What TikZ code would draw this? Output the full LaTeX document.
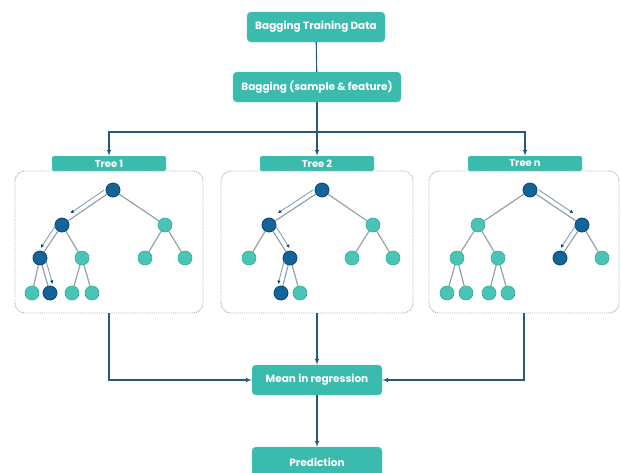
\documentclass[tikz,border=0pt]{standalone}
\usepackage{fontspec}
\setmainfont{Poppins}
\usepackage{tikz}
\usetikzlibrary{arrows}
\usetikzlibrary{arrows.meta}
\usetikzlibrary{calc}
\usetikzlibrary{positioning}
\definecolor{boxteal}{RGB}{59,187,173}
\definecolor{leafteal}{RGB}{74,197,181}
\definecolor{leafedge}{RGB}{50,170,158}
\definecolor{pickblue}{RGB}{20,100,156}
\definecolor{pickedge}{RGB}{10,66,112}
\definecolor{linkblue}{RGB}{38,88,128}
\definecolor{routeblue}{RGB}{125,162,190}
\definecolor{branchgray}{RGB}{150,160,166}
\tikzset{stage/.style = {fill = boxteal, draw = boxteal!80!white, rounded corners = 4pt,
                         text = white, font = \fontsize{10.5}{12}\selectfont\bfseries,
                         minimum height = 30, inner sep = 0}}
\tikzset{tab/.style = {fill = boxteal, rounded corners = 2pt, text = white,
                       font = \fontsize{10}{11}\selectfont\bfseries,
                       minimum width = 114, minimum height = 15, inner sep = 0}}
\tikzset{frame/.style = {draw = gray!65, densely dotted, line width = 0.9pt,
                         rounded corners = 10pt, minimum height = 142, inner sep = 0}}
\tikzset{leaf/.style = {circle, fill = leafteal, draw = leafedge, line width = 0.6pt,
                        minimum size = 14, inner sep = 0}}
\tikzset{pick/.style = {circle, fill = pickblue, draw = pickedge, line width = 0.8pt,
                        minimum size = 14, inner sep = 0}}
\tikzset{branch/.style = {draw = branchgray, line width = 1.2pt}}
\tikzset{link/.style = {draw = linkblue, line width = 1.1pt, -latex'}}
\tikzset{route/.style = {draw = routeblue, line width = 0.9pt,
                         -{Latex[length = 3.5pt, width = 3.5pt, color = pickedge]}}}
\newcommand{\route}[3]{\draw[route] ($(#1)!.12!(#2)!5pt!#3:(#2)$) -- ($(#1)!.78!(#2)!5pt!#3:(#2)$);}

\begin{document}
\begin{tikzpicture}[x = 1pt, y = -1pt]
      \useasboundingbox (0, 0) rectangle (621, 472);
      \clip (0, 0) rectangle (621, 472);

      \node [stage, minimum width = 138] (data) at (316, 27) {Bagging Training Data};
      \node [stage, minimum width = 168] (bag) at (317, 87) {Bagging (sample \& feature)};
      \coordinate (split) at (317, 132);

      \node [tab] (tab1) at (109, 163.5) {Tree 1};
      \node [tab] (tab2) at (317, 163.5) {Tree 2};
      \node [tab] (tab3) at (525, 163.5) {Tree n};
      \node [frame, minimum width = 188] (box1) at (109, 242) {};
      \node [frame, minimum width = 192] (box2) at (317, 242) {};
      \node [frame, minimum width = 190] (box3) at (524, 242) {};

      \node [stage, minimum width = 130] (mean) at (317, 380) {Mean in regression};
      \node [stage, minimum width = 130] (pred) at (317, 462) {Prediction};

      \draw [link, -] (data) -- (bag);
      \draw [link, -] (bag) -- (split);
      \draw [link] (split) -| (tab1.north);
      \draw [link] (split) -- (tab2.north);
      \draw [link] (split) -| (tab3.north);
      \draw [link] (box1.south) |- (mean.west);
      \draw [link] (box2.south) -- (mean.north);
      \draw [link] (box3.south) |- (mean.east);
      \draw [link] (mean) -- (pred);

      % tree 1
      \node [pick] (r1) at (113, 190) {};
      \node [pick] (a1) at (62, 225) {};
      \node [leaf] (b1) at (165, 225) {};
      \node [pick] (a1l) at (40, 258) {};
      \node [leaf] (a1r) at (82, 258) {};
      \node [leaf] (b1l) at (145, 258) {};
      \node [leaf] (b1r) at (185, 258) {};
      \node [leaf] (a1ll) at (32, 293) {};
      \node [pick] (a1lr) at (50, 293) {};
      \node [leaf] (a1rl) at (72, 293) {};
      \node [leaf] (a1rr) at (92, 293) {};
      \draw [branch] (r1) -- (a1) (r1) -- (b1) (a1) -- (a1l) (a1) -- (a1r)
                     (b1) -- (b1l) (b1) -- (b1r) (a1l) -- (a1ll) (a1l) -- (a1lr)
                     (a1r) -- (a1rl) (a1r) -- (a1rr);
      \route{r1}{a1}{-90}
      \route{a1}{a1l}{-90}
      \route{a1l}{a1lr}{90}

      % tree 2
      \node [pick] (r2) at (322, 190) {};
      \node [pick] (a2) at (269, 225) {};
      \node [leaf] (b2) at (373, 225) {};
      \node [leaf] (a2l) at (249, 258) {};
      \node [pick] (a2r) at (290, 258) {};
      \node [leaf] (b2l) at (352, 258) {};
      \node [leaf] (b2r) at (393, 258) {};
      \node [pick] (a2rl) at (281, 293) {};
      \node [leaf] (a2rr) at (300, 293) {};
      \draw [branch] (r2) -- (a2) (r2) -- (b2) (a2) -- (a2l) (a2) -- (a2r)
                     (b2) -- (b2l) (b2) -- (b2r) (a2r) -- (a2rl) (a2r) -- (a2rr);
      \route{r2}{a2}{-90}
      \route{a2}{a2r}{90}
      \route{a2r}{a2rl}{-90}

      % tree n
      \node [pick] (r3) at (530, 190) {};
      \node [leaf] (a3) at (478, 225) {};
      \node [pick] (b3) at (582, 225) {};
      \node [leaf] (a3l) at (457, 258) {};
      \node [leaf] (a3r) at (498, 258) {};
      \node [pick] (b3l) at (560, 258) {};
      \node [leaf] (b3r) at (602, 258) {};
      \node [leaf] (a3ll) at (447, 293) {};
      \node [leaf] (a3lr) at (466, 293) {};
      \node [leaf] (a3rl) at (489, 293) {};
      \node [leaf] (a3rr) at (508, 293) {};
      \draw [branch] (r3) -- (a3) (r3) -- (b3) (a3) -- (a3l) (a3) -- (a3r)
                     (b3) -- (b3l) (b3) -- (b3r) (a3l) -- (a3ll) (a3l) -- (a3lr)
                     (a3r) -- (a3rl) (a3r) -- (a3rr);
      \route{r3}{b3}{90}
      \route{b3}{b3l}{-90}
    \end{tikzpicture}
\end{document}
